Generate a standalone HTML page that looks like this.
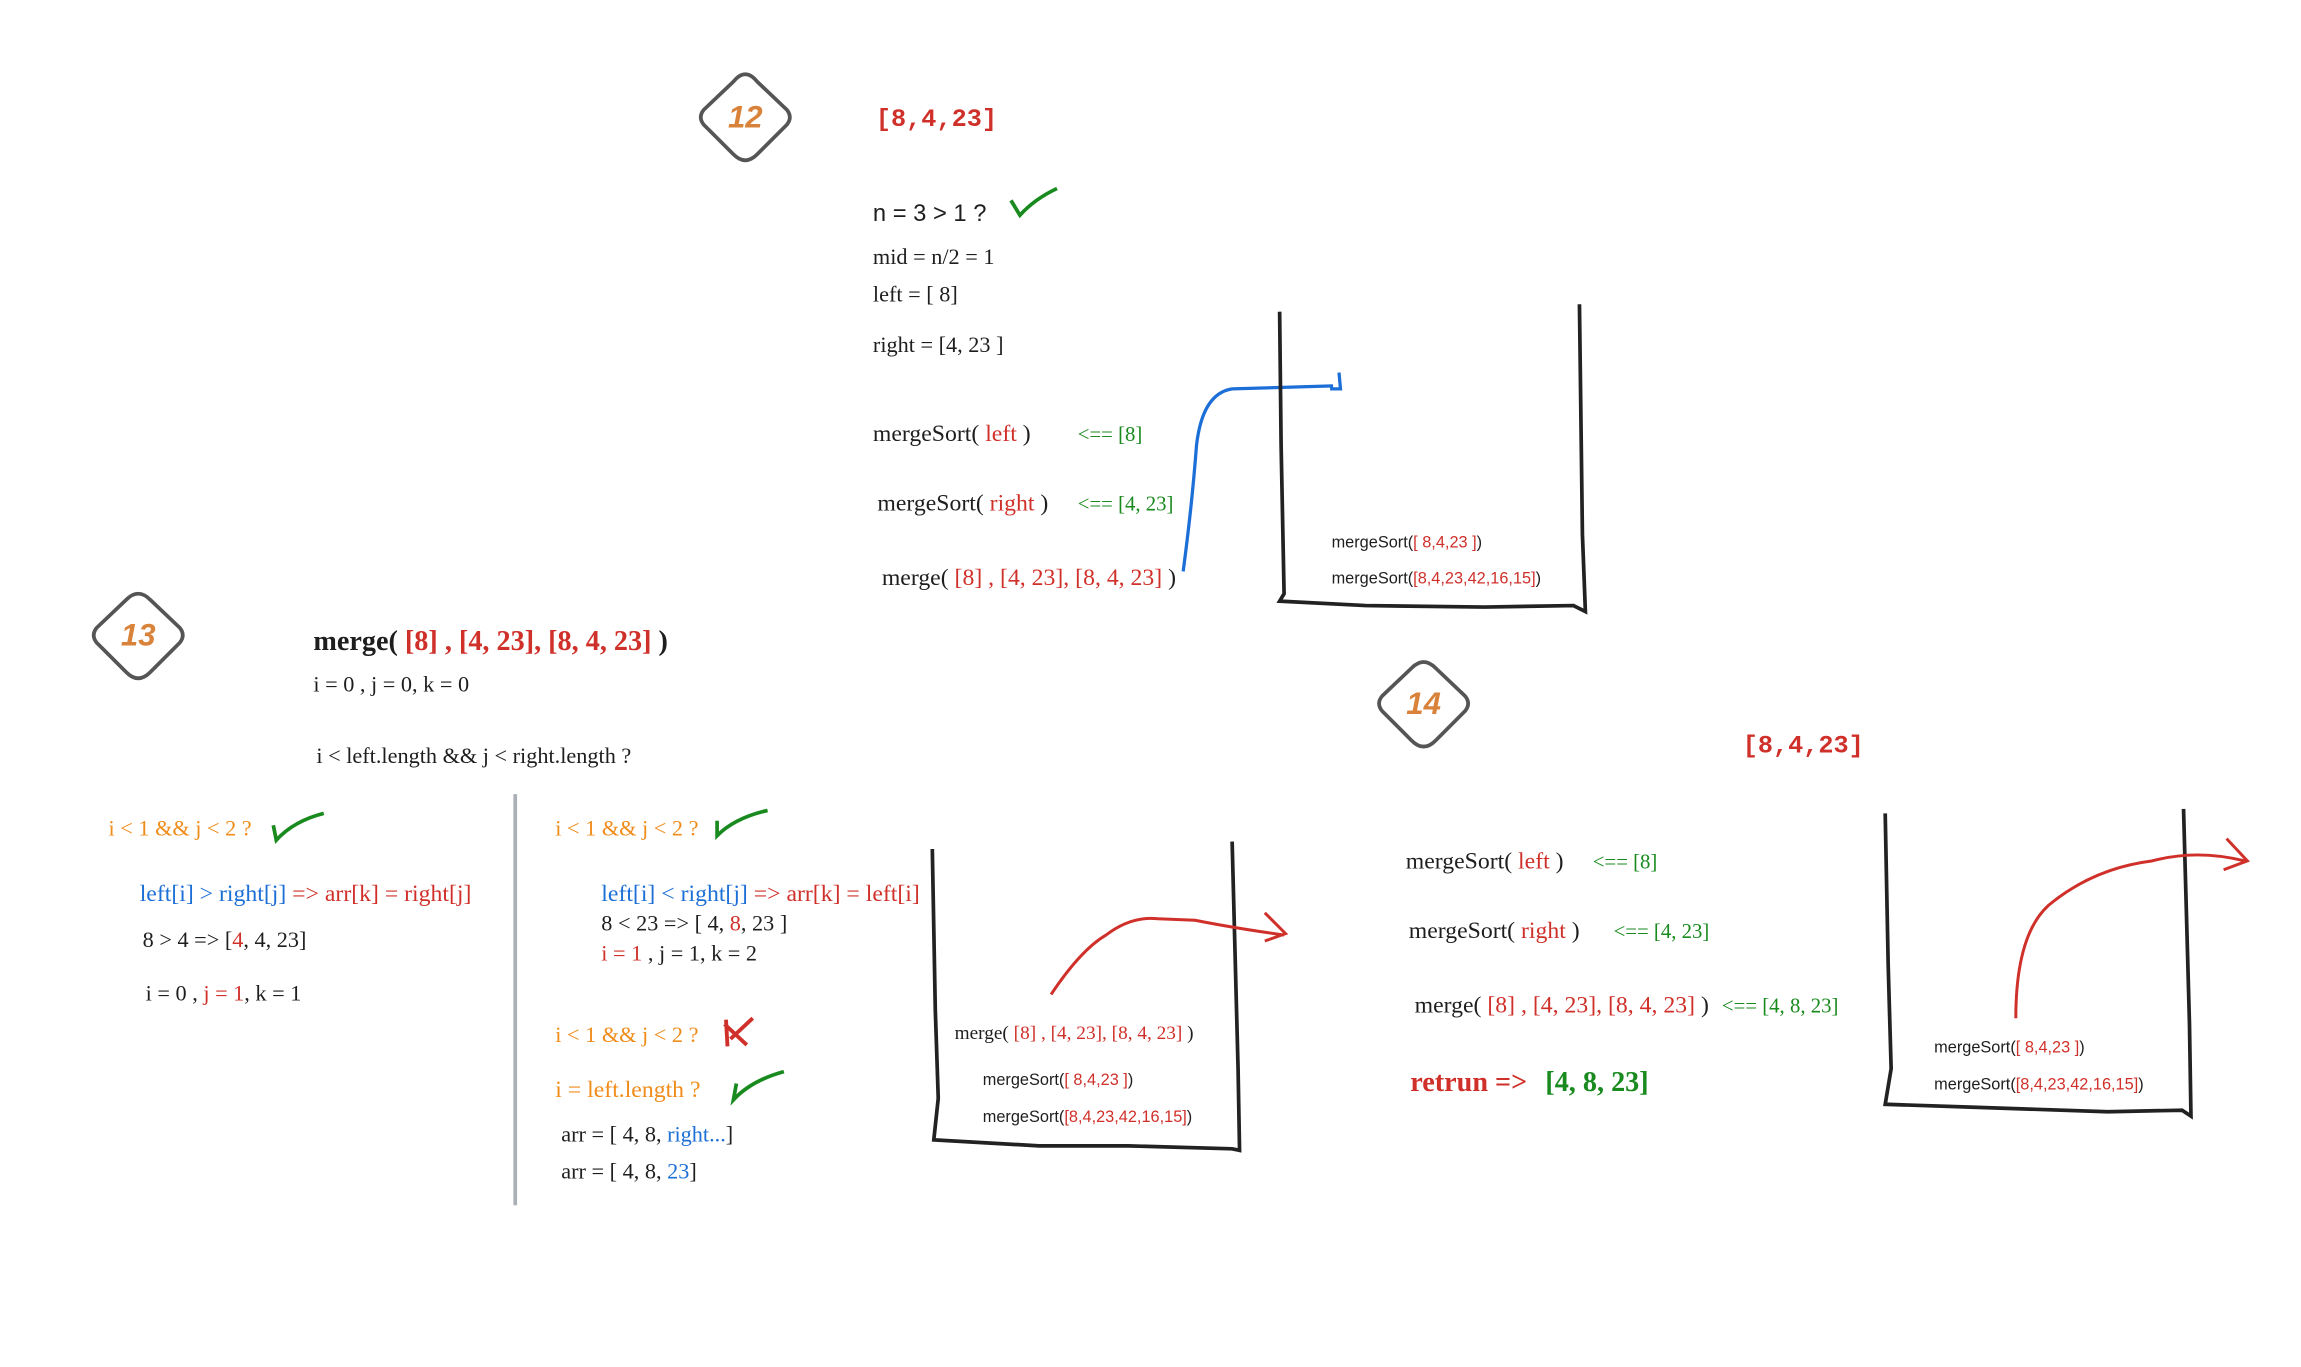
<!DOCTYPE html>
<html><head><meta charset="utf-8"><style>
html,body{margin:0;padding:0;background:#fff;}
svg{display:block;}
.s{font-family:"Liberation Serif",serif;fill:#1e1e1e;}
.a{font-family:"Liberation Sans",sans-serif;fill:#1e1e1e;}
.m{font-family:"Liberation Mono",monospace;font-weight:bold;fill:#d0302a;}
.r{fill:#d0302a}.g{fill:#198a1e}.b{fill:#1c6fd6}.o{fill:#f08c1a}
</style></head><body>
<svg width="2301" height="1367" viewBox="0 0 1550 921" xmlns="http://www.w3.org/2000/svg">
<g fill="none" stroke="#555" stroke-width="2.5" stroke-linejoin="round">
<path d="M502 50 Q506 50 510 55 L530 74 Q534 79 530 84 L510 104 Q502 112 494 104 L474 84 Q470 79 474 74 L494 55 Q498 50 502 50Z"/>
<path d="M93 400 Q97 400 101 404 L121 423 Q125 428 121 433 L101 453 Q93 461 85 453 L65 433 Q61 428 65 423 L85 404 Q89 400 93 400Z"/>
<path d="M959 446 Q963 446 967 450 L987 469 Q991 474 987 479 L967 499 Q959 507 951 499 L931 479 Q927 474 931 469 L951 450 Q955 446 959 446Z"/>
</g>
<g font-family="Liberation Sans,sans-serif" font-style="italic" font-weight="bold" font-size="21" fill="#d9833a" text-anchor="middle">
<text x="502" y="86">12</text><text x="93" y="435">13</text><text x="959" y="481">14</text>
</g>

<text class="m" x="590" y="85" font-size="17">[8,4,23]</text>
<text class="a" x="588" y="149" font-size="16">n = 3 &gt; 1 ?</text>
<path d="M681 135 L687 145 Q697 134 712 127" stroke="#198a1e" stroke-width="2.5" fill="none"/>
<g class="s" font-size="15">
<text x="588" y="178">mid = n/2 = 1</text>
<text x="588" y="203">left = [ 8]</text>
<text x="588" y="237">right = [4, 23 ]</text>
</g>
<g class="s" font-size="16">
<text x="588" y="297">mergeSort( <tspan class="r">left</tspan> )</text>
<text x="726" y="297" font-size="14" class="g">&lt;== [8]</text>
<text x="591" y="344">mergeSort( <tspan class="r">right</tspan> )</text>
<text x="726" y="344" font-size="14" class="g">&lt;== [4, 23]</text>
<text x="594" y="394">merge( <tspan class="r">[8] , [4, 23], [8, 4, 23]</tspan> )</text>
</g>
<path d="M797 385 Q803 340 806 300 Q810 265 830 262 L898 260 M902 251 L903 262 L896 262" stroke="#1c6fd6" stroke-width="2.2" fill="none"/>
<g stroke="#222" stroke-width="2.5" fill="none">
<path d="M862 210 L863 300 L865 400 L862 405 L920 408 L1000 409 L1060 408 L1068 412 L1066 360 L1064 205"/>
<path d="M628 572 L630 680 L632 740 L629 768 L700 772 L760 772 L830 774 L835 775 L834 720 L830 567"/>
<path d="M1270 548 L1272 650 L1274 720 L1270 744 L1330 746 L1420 749 L1470 748 L1476 752 L1475 690 L1471 545"/>
</g>
<g class="a" font-size="11">
<text x="897" y="369">mergeSort(<tspan class="r">[ 8,4,23 ]</tspan>)</text>
<text x="897" y="393">mergeSort(<tspan class="r">[8,4,23,42,16,15]</tspan>)</text>
<text x="662" y="731">mergeSort(<tspan class="r">[ 8,4,23 ]</tspan>)</text>
<text x="662" y="756">mergeSort(<tspan class="r">[8,4,23,42,16,15]</tspan>)</text>
<text x="1303" y="709">mergeSort(<tspan class="r">[ 8,4,23 ]</tspan>)</text>
<text x="1303" y="734">mergeSort(<tspan class="r">[8,4,23,42,16,15]</tspan>)</text>
</g>

<text class="s" x="211" y="438" font-size="19" font-weight="bold">merge( <tspan class="r">[8] , [4, 23], [8, 4, 23]</tspan> )</text>
<g class="s" font-size="15">
<text x="211" y="466">i = 0 , j = 0, k = 0</text>
<text x="213" y="514">i &lt; left.length &amp;&amp; j &lt; right.length ?</text>
</g>
<line x1="347" y1="535" x2="347" y2="812" stroke="#aab0b5" stroke-width="2.5"/>
<g class="s" font-size="15">
<text x="73" y="563" class="o">i &lt; 1 &amp;&amp; j &lt; 2 ?</text>
<text x="94" y="607" font-size="16" class="b">left[i] &gt; right[j] <tspan class="r">=&gt; arr[k] = right[j]</tspan></text>
<text x="96" y="638">8 &gt; 4 =&gt; [<tspan class="r">4</tspan>, 4, 23]</text>
<text x="98" y="674">i = 0 , <tspan class="r">j = 1</tspan>, k = 1</text>
<text x="374" y="563" class="o">i &lt; 1 &amp;&amp; j &lt; 2 ?</text>
<text x="405" y="607" font-size="16" class="b">left[i] &lt; right[j] <tspan class="r">=&gt; arr[k] = left[i]</tspan></text>
<text x="405" y="627">8 &lt; 23  =&gt; [ 4, <tspan class="r">8</tspan>, 23 ]</text>
<text x="405" y="647"><tspan class="r">i = 1</tspan> , j = 1, k = 2</text>
<text x="374" y="702" class="o">i &lt; 1 &amp;&amp; j &lt; 2 ?</text>
<text x="374" y="739" font-size="16" class="o">i  = left.length ?</text>
<text x="378" y="769">arr = [ 4, 8, <tspan class="b">right...</tspan>]</text>
<text x="378" y="794">arr = [ 4, 8, <tspan class="b">23</tspan>]</text>
</g>
<g stroke="#198a1e" stroke-width="2.5" fill="none">
<path d="M184 556 L186 566 Q198 553 218 548"/>
<path d="M483 553 L483 563 Q495 551 517 546"/>
<path d="M496 730 L494 741 Q506 728 528 722"/>
</g>
<path d="M489 687 L490 705 M488 690 L503 704 M507 686 L492 700" stroke="#d0302a" stroke-width="2.6" fill="none"/>
<path d="M708 670 Q728 640 745 630 Q762 617 780 619 L805 620 Q830 625 865 630 M852 615 L866 629 L852 634" stroke="#d0302a" stroke-width="2" fill="none"/>
<text class="a" x="643" y="700" font-size="13" style="font-family:'Liberation Serif',serif">merge( <tspan class="r">[8] , [4, 23], [8, 4, 23]</tspan> )</text>

<text class="m" x="1174" y="507" font-size="17">[8,4,23]</text>
<g class="s" font-size="16">
<text x="947" y="585">mergeSort( <tspan class="r">left</tspan> )</text>
<text x="1073" y="585" font-size="14" class="g">&lt;== [8]</text>
<text x="949" y="632">mergeSort( <tspan class="r">right</tspan> )</text>
<text x="1087" y="632" font-size="14" class="g">&lt;== [4, 23]</text>
<text x="953" y="682">merge( <tspan class="r">[8] , [4, 23], [8, 4, 23]</tspan> )</text>
<text x="1160" y="682" font-size="14" class="g">&lt;== [4, 8, 23]</text>
<text x="950" y="735" font-size="19" font-weight="bold" class="r">retrun =&gt;</text>
<text x="1041" y="735" font-size="19" font-weight="bold" class="g">[4, 8, 23]</text>
</g>
<path d="M1358 686 Q1358 630 1380 610 Q1410 585 1450 580 Q1480 572 1512 580 M1500 565 L1514 580 L1498 586" stroke="#d0302a" stroke-width="2" fill="none"/>
</svg>
</body></html>
